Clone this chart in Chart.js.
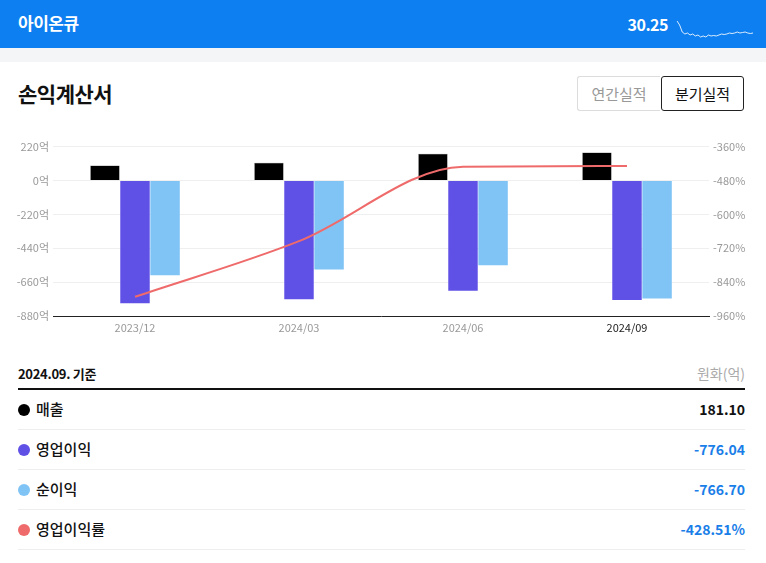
<!DOCTYPE html>
<html>
<head>
<meta charset="utf-8">
<script src="https://cdn.jsdelivr.net/npm/chart.js@4.4.1/dist/chart.umd.min.js"></script>
<style>
  body { margin: 0; width: 766px; height: 563px; background: #fff; font-family: "Noto Sans CJK KR", "Noto Sans", sans-serif; overflow: hidden; position: relative; }
  .top { position: absolute; left: 0; top: 0; width: 766px; height: 48px; background: #0d7ff0; color: #fff; }
  .top .name { position: absolute; left: 18px; top: 10px; font-size: 17px; font-weight: 700; letter-spacing: -0.5px; }
  .top .price { position: absolute; right: 98px; top: 12px; font-size: 16px; font-weight: 700; letter-spacing: -0.5px; }
  #spark { position: absolute; left: 676px; top: 19px; }
  .strip { position: absolute; left: 0; top: 48px; width: 766px; height: 14px; background: #f4f5f7; }
  .title { position: absolute; left: 18px; top: 78px; font-size: 21px; font-weight: 700; letter-spacing: -0.5px; color: #111; }
  .btn { position: absolute; top: 76px; height: 35px; width: 83px; box-sizing: border-box; font-size: 15px; text-align: center; line-height: 33px; border-radius: 3px; }
  .btn.off { left: 577px; border: 1px solid #dcdcdc; color: #999; border-right: none; border-radius: 3px 0 0 3px; }
  .btn.on { left: 661px; border: 1px solid #222; color: #111; }
  .chartbox { position: absolute; left: 0; top: 136px; width: 766px; height: 204px; }
  .tbl { position: absolute; left: 18px; top: 357px; width: 727px; }
  .tbl .head { height: 31px; border-bottom: 2px solid #111; position: relative; }
  .tbl .head .l { position: absolute; left: 0; top: 7px; font-size: 13px; font-weight: 700; color: #111; letter-spacing: -0.3px; }
  .tbl .head .r { position: absolute; right: 0; top: 6px; font-size: 14px; color: #aaa; }
  .row { height: 39px; border-bottom: 1px solid #eceef0; position: relative; }
  .row .dot { position: absolute; left: 0; top: 14px; width: 12px; height: 12px; border-radius: 50%; }
  .row .lab { position: absolute; left: 18px; top: 8px; font-size: 15px; font-weight: 500; color: #111; }
  .row .val { position: absolute; right: 0; top: 9px; font-size: 14px; font-weight: 700; }
</style>
</head>
<body>
<div class="top">
  <div class="name">아이온큐</div>
  <div class="price">30.25</div>
  <canvas id="spark" width="78" height="20"></canvas>
</div>
<div class="strip"></div>
<div class="title">손익계산서</div>
<div class="btn off">연간실적</div>
<div class="btn on">분기실적</div>
<div class="chartbox"><canvas id="chart"></canvas></div>
<div class="tbl" id="tbl">
  <div class="head"><span class="l">2024.09. 기준</span><span class="r">원화(억)</span></div>
</div>
<script>
// quarters and series (억, %)
const quarters = ["2023/12", "2024/03", "2024/06", "2024/09"];
const revenue = [97, 115, 173, 181.10];
const operatingProfit = [-798, -772, -716, -776.04];
const netProfit = [-615, -578, -550, -766.70];
const operatingMargin = [-892, -695, -431, -428.51];

const leftTicks = [220, 0, -220, -440, -660, -880];
const rightTicks = [-360, -480, -600, -720, -840, -960];

// price sparkline
const sparkPrices = [44, 40, 33, 31, 32, 30, 31, 29, 30, 28, 29, 28, 30, 29, 29.5, 29, 30, 31, 30.5, 31, 32, 31.5, 32, 33, 32, 32.5, 33, 32, 31.5, 32];

const series = [
  { label: "매출", data: revenue, color: "#000000", unit: "" },
  { label: "영업이익", data: operatingProfit, color: "#5f50e6", unit: "" },
  { label: "순이익", data: netProfit, color: "#80c4f6", unit: "" },
  { label: "영업이익률", data: operatingMargin, color: "#ef6b6b", unit: "%" },
];

const tickFont = { family: "'Noto Sans CJK KR', sans-serif", size: 11 };

new Chart(document.getElementById("chart"), {
  data: {
    labels: quarters,
    datasets: [
      { type: "line", label: series[3].label, data: operatingMargin, yAxisID: "y1",
        borderColor: series[3].color, borderWidth: 2, pointRadius: 0,
        cubicInterpolationMode: "monotone", order: 0 },
      { type: "bar", label: series[0].label, data: revenue, yAxisID: "y",
        backgroundColor: series[0].color, borderColor: "#666", borderWidth: 0.5, order: 1 },
      { type: "bar", label: series[1].label, data: operatingProfit, yAxisID: "y",
        backgroundColor: series[1].color, order: 1 },
      { type: "bar", label: series[2].label, data: netProfit, yAxisID: "y",
        backgroundColor: series[2].color, order: 1 },
    ],
  },
  options: {
    responsive: true,
    maintainAspectRatio: false,
    animation: false,
    layout: { padding: { top: 10, left: 0, right: 0, bottom: 0 } },
    datasets: { bar: { categoryPercentage: 0.55, barPercentage: 0.98 } },
    plugins: { legend: { display: false }, tooltip: { enabled: false } },
    scales: {
      x: {
        grid: { display: false, drawTicks: false },
        border: { color: "#222", width: 1 },
        ticks: { padding: 5, font: tickFont, color: ctx => ctx.index === quarters.length - 1 ? "#222" : "#999" },
        afterFit: s => { s.height = 24; },
      },
      y: {
        position: "left",
        min: leftTicks[leftTicks.length - 1], max: leftTicks[0],
        afterBuildTicks: s => { s.ticks = leftTicks.map(v => ({ value: v })); },
        grid: { color: "#efefef", drawTicks: false },
        border: { display: false },
        ticks: { padding: 4, font: tickFont, color: "#999", callback: v => v + "억" },
        afterFit: s => { s.width = 53; },
      },
      y1: {
        position: "right",
        min: rightTicks[rightTicks.length - 1], max: rightTicks[0],
        afterBuildTicks: s => { s.ticks = rightTicks.map(v => ({ value: v })); },
        grid: { display: false, drawTicks: false },
        border: { display: false },
        ticks: { padding: 4, font: tickFont, color: "#999", callback: v => v + "%" },
        afterFit: s => { s.width = 57; },
      },
    },
  },
});

new Chart(document.getElementById("spark"), {
  type: "line",
  data: { labels: sparkPrices.map((_, i) => i), datasets: [{ data: sparkPrices, borderColor: "rgba(255,255,255,0.85)", borderWidth: 1, pointRadius: 0, tension: 0 }] },
  options: {
    responsive: false, animation: false,
    layout: { padding: 1 },
    plugins: { legend: { display: false }, tooltip: { enabled: false } },
    scales: { x: { display: false }, y: { display: false, min: 27, max: 45 } },
  },
});

// summary table from the latest quarter
const tbl = document.getElementById("tbl");
series.forEach(s => {
  const v = s.data[s.data.length - 1];
  const row = document.createElement("div");
  row.className = "row";
  row.innerHTML = '<span class="dot" style="background:' + s.color + '"></span>' +
    '<span class="lab">' + s.label + '</span>' +
    '<span class="val" style="color:' + (v < 0 ? "#1a7ee8" : "#111") + '">' + v.toFixed(2) + s.unit + '</span>';
  tbl.appendChild(row);
});
</script>
</body>
</html>
